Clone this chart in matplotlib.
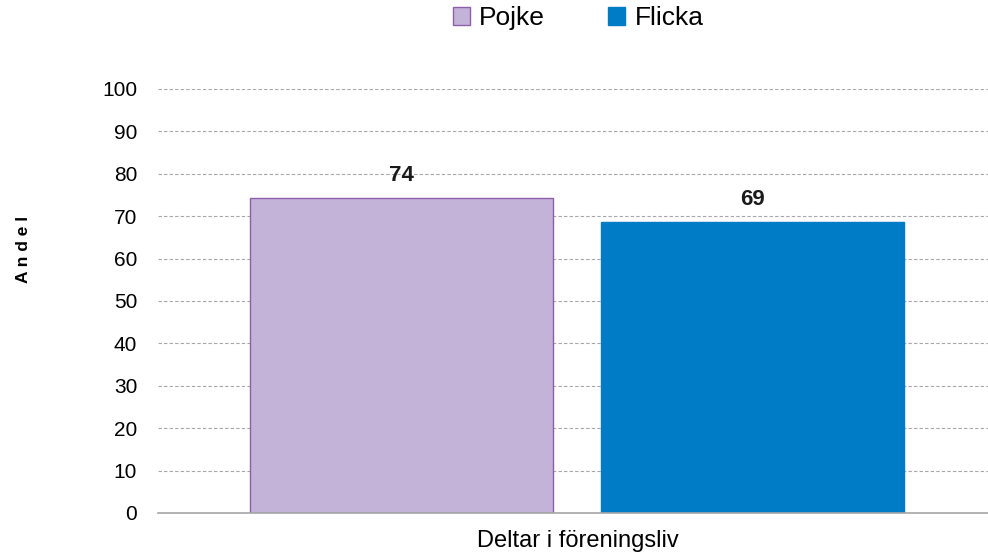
import matplotlib.pyplot as plt
import numpy as np

plt.rcParams['font.family'] = ['Liberation Sans', 'DejaVu Sans']

# Data
category = 'Deltar i föreningsliv'
groups = ['Pojke', 'Flicka']
values = [74.4, 68.7]
colors = ['#c4b3d9', '#007cc6']
edges = ['#8e5fa8', '#007cc6']
yticks = [0, 10, 20, 30, 40, 50, 60, 70, 80, 90, 100]

fig = plt.figure(figsize=(9.88, 5.6), dpi=100)
ax = fig.add_axes([158 / 988, 1 - 513 / 560, 839 / 988, (513 - 89) / 560])

width = 0.361
offsets = [-0.21, 0.209]
bars = []
for g, v, c, e, off in zip(groups, values, colors, edges, offsets):
    b = ax.bar(off, v, width=width, color=c, edgecolor=e, linewidth=1, label=g, zorder=3)
    bars.append(b)
    ax.text(off, v + 2.8, f'{v:.0f}', ha='center', va='bottom',
            fontsize=16, fontweight='bold', color='#1a1a1a', zorder=4)

ax.set_xlim(-0.5, 0.5)
ax.set_ylim(0, 100)
ax.set_yticks(yticks)
ax.yaxis.grid(True, linestyle=(0, (3, 2)), color='#a6a6a6', linewidth=0.8, zorder=0)
ax.set_xticks([0])
ax.set_xticklabels([category], fontsize=17)
ax.tick_params(axis='x', length=0, pad=12)
ax.tick_params(axis='y', length=0, labelsize=15, pad=15)
for s in ['top', 'right', 'left']:
    ax.spines[s].set_visible(False)
ax.spines['bottom'].set_color('#a6a6a6')
ax.spines['bottom'].set_linewidth(1.2)
ax.spines['bottom'].set_zorder(5)

fig.text(24 / 988, 1 - 249 / 560, 'A n d e l', rotation=90, fontsize=12.5,
         fontweight='bold', ha='center', va='center')

fig.legend(handles=[b[0] for b in bars], labels=groups, loc='center',
           bbox_to_anchor=(578 / 988, 1 - 18 / 560), ncol=2, frameon=False,
           fontsize=19, handlelength=0.65, handleheight=0.65, handletextpad=0.35,
           columnspacing=2.4)

fig.savefig('out.png', dpi=100)
